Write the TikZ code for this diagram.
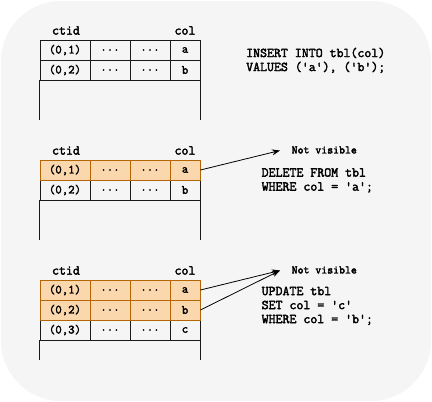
\documentclass[tikz,border=0pt]{standalone}
\usepackage{fontspec}
\setmonofont{Latin Modern Mono}[AutoFakeBold=2.5]
\usetikzlibrary{arrows.meta}
\definecolor{bggray}{HTML}{F5F5F5}
\definecolor{hlfill}{HTML}{FAD7AC}
\definecolor{hldraw}{HTML}{B46504}
\definecolor{tblline}{HTML}{1A1A1A}
\tikzset{
  cell/.style={draw=tblline, line width=0.9pt, minimum height=20pt, inner sep=0pt,
    font=\ttfamily\bfseries\fontsize{12.5}{12.5}\selectfont},
  hl/.style={cell, fill=hlfill, draw=hldraw},
  side/.style={draw=tblline, line width=0.9pt},
  head/.style={inner sep=0pt, font=\ttfamily\bfseries\fontsize{13.5}{13.5}\selectfont},
  sql/.style={anchor=north west, align=left, inner sep=0pt,
    font=\ttfamily\bfseries\fontsize{13.5}{14}\selectfont},
  note/.style={anchor=west, inner sep=0pt, font=\ttfamily\bfseries\fontsize{11.5}{11.5}\selectfont},
  ptr/.style={-{Stealth[length=8pt,width=6pt]}, line width=0.8pt}
}
\begin{document}
\begin{tikzpicture}[x=1pt,y=-1pt]
\useasboundingbox (0,0) rectangle (432,402);
\fill[bggray, rounded corners=60pt] (1,1) rectangle (431,401);
% one row: name, y, ctid, col, style
\def\tblrow#1#2#3#4#5{
  \node[#5, minimum width=50pt] (#1c) at (65,#2) {#3};
  \node[#5, minimum width=40pt] (#1d) at (110,#2) {...};
  \node[#5, minimum width=40pt] (#1e) at (150,#2) {...};
  \node[#5, minimum width=30pt] (#1v) at (185,#2) {#4};
}
% insert
\node[head] (ctidA) at (66,30.5) {ctid};
\node[head] (colA) at (185,30.5) {col};
\tblrow{a1}{50}{(0,1)}{a}{cell}
\tblrow{a2}{70}{(0,2)}{b}{cell}
\draw[side] (a2c.south west) -- ++(0,40);
\draw[side] (a2v.south east) -- ++(0,40);
\node[sql] (insert) at (246,47.5) {INSERT INTO tbl(col)\\VALUES ('a'), ('b');};
% delete
\node[head] (ctidB) at (66,150.5) {ctid};
\node[head] (colB) at (185,150.5) {col};
\tblrow{b2}{190}{(0,2)}{b}{cell}
\tblrow{b1}{170}{(0,1)}{a}{hl}
\draw[side] (b2c.south west) -- ++(0,40);
\draw[side] (b2v.south east) -- ++(0,40);
\node[note] (nvB) at (291.5,150) {Not visible};
\coordinate (tipB) at (280,150.5);
\draw[ptr] (b1v.east) -- (tipB);
\node[sql] (delete) at (261.5,168) {DELETE FROM tbl\\WHERE col = 'a';};
% update
\node[head] (ctidC) at (66,270.5) {ctid};
\node[head] (colC) at (185,270.5) {col};
\tblrow{c3}{330}{(0,3)}{c}{cell}
\tblrow{c1}{290}{(0,1)}{a}{hl}
\tblrow{c2}{310}{(0,2)}{b}{hl}
\draw[side] (c3c.south west) -- ++(0,20);
\draw[side] (c3v.south east) -- ++(0,20);
\node[note] (nvC) at (291.5,270) {Not visible};
\coordinate (tipC) at (280,270.5);
\draw[ptr] (c1v.east) -- (tipC);
\draw[ptr] (c2v.east) -- (tipC);
\node[sql] (update) at (261.5,286.5) {UPDATE tbl\\SET col = 'c'\\WHERE col = 'b';};
\end{tikzpicture}
\end{document}
